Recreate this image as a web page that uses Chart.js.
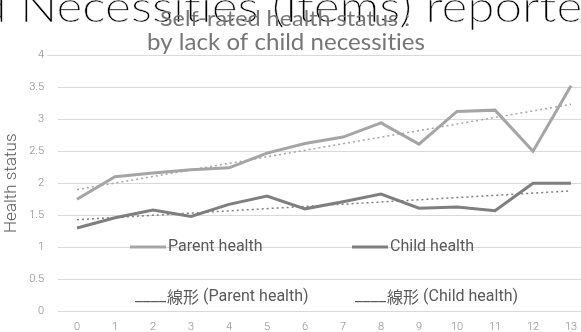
<!DOCTYPE html>
<html>
<head>
<meta charset="utf-8">
<script src="https://cdn.jsdelivr.net/npm/chart.js@4/dist/chart.umd.min.js"></script>
<style>
  html, body { margin: 0; padding: 0; background: #fff; overflow: hidden; }
  #wrap { position: relative; width: 581px; height: 332px; overflow: hidden; }
  canvas { position: absolute; left: 0; top: 0; }
</style>
</head>
<body>
<div id="wrap"><canvas id="c" width="600" height="332"></canvas></div>
<script>
// Number of child necessities lacked (0–13)
const categories = ['0','1','2','3','4','5','6','7','8','9','10','11','12','13'];
// Mean self-rated health by number of items lacked
const parentHealth = [1.75, 2.10, 2.16, 2.21, 2.24, 2.47, 2.62, 2.72, 2.94, 2.61, 3.12, 3.14, 2.50, 3.52];
const childHealth  = [1.30, 1.46, 1.58, 1.48, 1.67, 1.80, 1.60, 1.71, 1.83, 1.61, 1.63, 1.57, 2.00, 2.00];
// Linear trend lines: values at the first and last category
const parentTrend = [1.90, 3.23];
const childTrend  = [1.43, 1.88];
const seriesLabels = ['Parent health', 'Child health', '線形 (Parent health)', '線形 (Child health)'];
const titleLines = ['Self-rated health status :', 'by lack of child necessities'];
const backdropText = 'd Necessities (Items) reported';
const yAxisTitle = 'Health status';

const PARENT = '#a5a5a5';
const CHILD = '#7f7f7f';
const TEXT = '#595959';
const TICK = '#8a8a8a';

function trendPoints(t) {
  return [{ x: categories[0], y: t[0] }, { x: categories[categories.length - 1], y: t[1] }];
}

// Draw text squeezed/stretched horizontally to a given width
function fitText(ctx, text, x, y, width) {
  const w = ctx.measureText(text).width;
  ctx.save();
  ctx.translate(x, y);
  ctx.scale(width / w, 1);
  ctx.fillText(text, 0, 0);
  ctx.restore();
}

function noLigatures(ctx) {
  if ('letterSpacing' in ctx) ctx.letterSpacing = '0.01px';
}

const decorations = {
  id: 'decorations',
  beforeDraw(chart) {
    const ctx = chart.ctx;
    ctx.save();
    noLigatures(ctx);
    // large heading text running behind the chart title (slightly thinned strokes)
    ctx.font = '300 44px Lato, "Open Sans", sans-serif';
    ctx.fillStyle = '#000';
    ctx.strokeStyle = '#fff';
    ctx.lineWidth = 0.5;
    ctx.textBaseline = 'alphabetic';
    const lead = ctx.measureText('d ').width;
    const core = ctx.measureText('Necessities (Items)').width;
    const sx = 392 / core;
    ctx.save();
    ctx.translate(20 - lead * sx, 22);
    ctx.scale(sx, 1);
    ctx.fillText(backdropText, 0, 0);
    ctx.strokeText(backdropText, 0, 0);
    ctx.restore();
    ctx.restore();
  },
  afterDraw(chart) {
    const ctx = chart.ctx;
    const ds = chart.data.datasets;
    ctx.save();
    noLigatures(ctx);
    // chart title
    ctx.fillStyle = '#767676';
    ctx.textBaseline = 'alphabetic';
    ctx.font = '22px Lato, "Open Sans", sans-serif';
    fitText(ctx, titleLines[0], 160, 26, 250);
    ctx.font = '23px Lato, "Open Sans", sans-serif';
    fitText(ctx, titleLines[1], 147, 50, 278);

    // top border line of the plot, running a little past the tick labels
    ctx.strokeStyle = '#d9d9d9';
    ctx.lineWidth = 1;
    ctx.beginPath();
    ctx.moveTo(47, Math.round(chart.chartArea.top) + 0.5);
    ctx.lineTo(chart.chartArea.left, Math.round(chart.chartArea.top) + 0.5);
    ctx.stroke();

    // y-axis title
    ctx.save();
    ctx.translate(12, (chart.chartArea.top + chart.chartArea.bottom) / 2);
    ctx.rotate(-Math.PI / 2);
    ctx.font = '300 17px Roboto, sans-serif';
    ctx.fillStyle = TEXT;
    ctx.textAlign = 'center';
    ctx.textBaseline = 'middle';
    ctx.fillText(yAxisTitle, 0, 0);
    ctx.restore();

    // legend, placed inside the plot area
    const latin = '16px Roboto, "Noto Sans CJK JP", sans-serif';
    const cjk = '16px "Noto Sans CJK JP", sans-serif';
    ctx.font = latin;
    ctx.textBaseline = 'middle';
    ctx.fillStyle = TEXT;
    const row1 = [{ d: ds[0], x0: 130, x1: 166 }, { d: ds[1], x0: 352, x1: 388 }];
    row1.forEach(r => {
      ctx.strokeStyle = r.d.borderColor;
      ctx.lineWidth = 3;
      ctx.beginPath();
      ctx.moveTo(r.x0, 247);
      ctx.lineTo(r.x1, 247);
      ctx.stroke();
      ctx.fillText(r.d.label, r.x1 + 2, 247);
    });
    const row2 = [{ d: ds[2], x: 135 }, { d: ds[3], x: 355 }];
    row2.forEach(r => {
      // underscores act as the trend-line sample
      ctx.font = latin;
      fitText(ctx, '____', r.x, 297, 31);
      ctx.font = cjk;
      const k = r.d.label.slice(0, 2);
      ctx.fillText(k, r.x + 32, 297);
      const kw = ctx.measureText(k).width;
      ctx.font = latin;
      ctx.fillText(r.d.label.slice(2), r.x + 32 + kw, 297);
    });
    ctx.restore();
  }
};

new Chart(document.getElementById('c'), {
  type: 'line',
  data: {
    labels: categories,
    datasets: [
      { label: seriesLabels[0], data: parentHealth, borderColor: PARENT, borderWidth: 3, pointRadius: 0, tension: 0 },
      { label: seriesLabels[1], data: childHealth, borderColor: CHILD, borderWidth: 3, pointRadius: 0, tension: 0 },
      { label: seriesLabels[2], data: trendPoints(parentTrend), borderColor: PARENT, borderWidth: 1.5, borderDash: [2, 3], pointRadius: 0 },
      { label: seriesLabels[3], data: trendPoints(childTrend), borderColor: CHILD, borderWidth: 1.5, borderDash: [2, 3], pointRadius: 0 }
    ]
  },
  options: {
    responsive: false,
    animation: false,
    devicePixelRatio: 1,
    layout: { padding: { top: 55, right: 10, left: 0, bottom: 0 } },
    plugins: { legend: { display: false }, title: { display: false }, tooltip: { enabled: false } },
    scales: {
      x: {
        type: 'category',
        offset: true,
        grid: { display: false, drawTicks: false },
        border: { display: false },
        ticks: { color: TICK, font: { family: 'Roboto', size: 11, weight: 300 }, padding: 9, maxRotation: 0, autoSkip: false },
        afterFit(s) { s.height = 20; }
      },
      y: {
        min: 0, max: 4,
        grid: { color: '#d9d9d9', lineWidth: 1, drawTicks: false },
        border: { display: false },
        ticks: {
          stepSize: 0.5, color: TICK, font: { family: 'Roboto', size: 11, weight: 300 }, padding: 14,
          callback: v => String(v)
        },
        afterFit(s) { s.width = 58; }
      }
    }
  },
  plugins: [decorations]
});
</script>
</body>
</html>
